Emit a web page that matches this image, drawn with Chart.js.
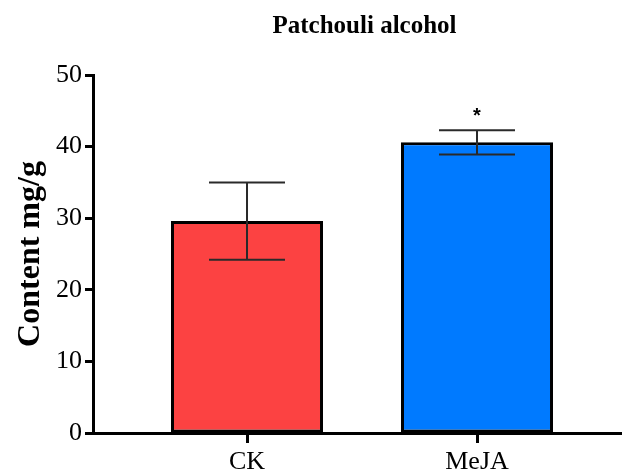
<!DOCTYPE html>
<html><head><meta charset="utf-8">
<script src="https://cdn.jsdelivr.net/npm/chart.js@4"></script>
<style>html,body{margin:0;padding:0;background:#fff}</style>
</head><body>
<canvas id="c" width="622" height="475"></canvas>
<script>
const categories = ['CK', 'MeJA'];
const means = [29.6, 40.6];
const sds = [5.4, 1.7];
const significance = ['', '*'];
const yTicks = [0, 10, 20, 30, 40, 50];
const barColors = ['#FC4242', '#007AFF'];
const titleText = 'Patchouli alcohol';
const yTitle = 'Content mg/g';

const serif = 'Liberation Serif, Times New Roman, serif';

const extras = {
  id: 'extras',
  afterDatasetsDraw(chart) {
    const ctx = chart.ctx, xs = chart.scales.x, ys = chart.scales.y;
    ctx.save();
    ctx.strokeStyle = '#2a2a2a';
    ctx.lineWidth = 2;
    means.forEach((m, i) => {
      const px = xs.getPixelForValue(i + 1);
      const top = ys.getPixelForValue(m + sds[i]);
      const bot = ys.getPixelForValue(m - sds[i]);
      const hw = 38;
      ctx.beginPath();
      ctx.moveTo(px, top); ctx.lineTo(px, bot);
      ctx.moveTo(px - hw, top); ctx.lineTo(px + hw, top);
      ctx.moveTo(px - hw, bot); ctx.lineTo(px + hw, bot);
      ctx.stroke();
      if (significance[i]) {
        ctx.fillStyle = '#000';
        ctx.font = 'bold 20px Liberation Sans, Arial, sans-serif';
        ctx.textAlign = 'center';
        ctx.textBaseline = 'alphabetic';
        ctx.fillText(significance[i], px, top - 8);
      }
    });
    ctx.restore();
  },
  afterDraw(chart) {
    const ctx = chart.ctx;
    ctx.save();
    ctx.fillStyle = '#000';
    ctx.font = 'bold 25px ' + serif;
    ctx.textAlign = 'center';
    ctx.textBaseline = 'alphabetic';
    ctx.fillText(titleText, 364.5, 33);
    ctx.restore();
  }
};

new Chart(document.getElementById('c'), {
  type: 'bar',
  data: {
    datasets: [{
      data: categories.map((c, i) => ({ x: i + 1, y: means[i] })),
      backgroundColor: barColors,
      borderColor: '#000',
      borderWidth: 3,
      borderSkipped: false,
      categoryPercentage: 1,
      barPercentage: 0.661
    }]
  },
  options: {
    responsive: false,
    animation: false,
    layout: { padding: { top: 75, left: 0, right: 0, bottom: 0 } },
    plugins: { legend: { display: false }, tooltip: { enabled: false }, title: { display: false } },
    scales: {
      x: {
        type: 'linear',
        offset: false,
        min: 0.3304,
        max: 2.6304,
        afterBuildTicks: s => { s.ticks = categories.map((c, i) => ({ value: i + 1 })); },
        afterFit: s => { s.height = 42; },
        ticks: {
          callback: v => categories[Math.round(v) - 1],
          font: { family: serif, size: 26 },
          color: '#000',
          padding: 4,
          maxRotation: 0,
          autoSkip: false
        },
        grid: { offset: false, drawOnChartArea: false, tickLength: 10, tickWidth: 3, tickColor: '#000' },
        border: { color: '#000', width: 3 }
      },
      y: {
        min: 0,
        max: 50,
        afterBuildTicks: s => { s.ticks = yTicks.map(v => ({ value: v })); },
        afterFit: s => { s.width = 93; },
        ticks: { font: { family: serif, size: 26 }, color: '#000', padding: 3 },
        grid: { drawOnChartArea: false, tickLength: 8, tickWidth: 3, tickColor: '#000' },
        border: { color: '#000', width: 3 },
        title: {
          display: true,
          text: yTitle,
          color: '#000',
          font: { family: serif, size: 32, weight: 'bold' },
          padding: { top: 12, bottom: 0 }
        }
      }
    }
  },
  plugins: [extras]
});
</script>
</body></html>
